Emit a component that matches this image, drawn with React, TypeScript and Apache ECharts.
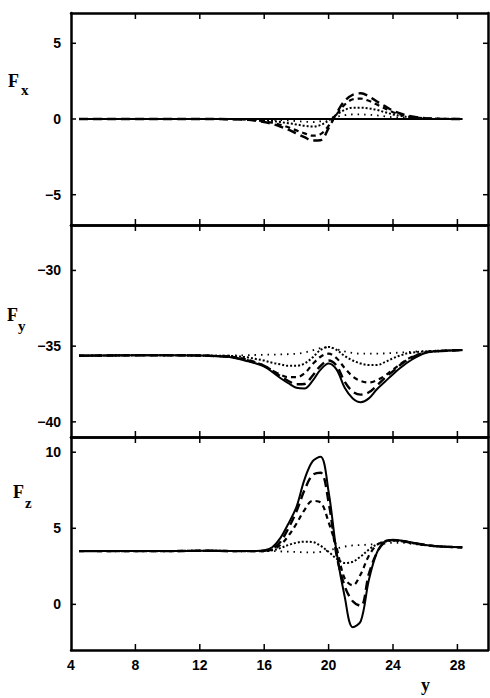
import React, { useEffect, useRef } from "react";
import * as echarts from "echarts";

// common abscissa (y coordinate)
const xs = [4.5, 6, 8, 10, 12, 13, 14, 15, 15.5, 16, 16.5, 17, 17.5, 18, 18.5, 19, 19.5, 20, 20.5, 21, 21.5, 22, 22.5, 23, 23.5, 24, 24.5, 25, 26, 27, 28.3];

// F_x
const fxSolid = [0, 0, 0, 0, 0, 0, 0,
  0, 0, 0, 0, 0, 0, 0, 0, 0, 0, 0, 0, 0, 0, 0, 0, 0, 0, 0, 0, 0,
  0, 0, 0];
const fxLong = [0, 0, 0, 0, 0, 0, -0.02,
  -0.06, -0.12, -0.2, -0.33, -0.5, -0.7, -0.95, -1.2, -1.42, -1.4, -0.6, 0.4, 1.2, 1.6, 1.7, 1.5, 1.15, 0.85, 0.55, 0.35, 0.2,
  0.06, 0.01, 0];
const fxMed = [0, 0, 0, 0, 0, 0, -0.01,
  -0.04, -0.09, -0.15, -0.25, -0.38, -0.55, -0.75, -0.95, -1.1, -1.0, -0.45, 0.3, 0.95, 1.3, 1.35, 1.2, 0.95, 0.7, 0.45, 0.28, 0.15,
  0.05, 0.01, 0];
const fxDense = [0, 0, 0, 0, 0, 0, 0,
  -0.02, -0.04, -0.08, -0.13, -0.2, -0.28, -0.36, -0.45, -0.5, -0.4, -0.1, 0.3, 0.6, 0.75, 0.75, 0.7, 0.6, 0.45, 0.3, 0.2, 0.12,
  0.03, 0, 0];
const fxSparse = [0, 0, 0, 0, 0, 0, 0,
  0, -0.01, -0.02, -0.04, -0.07, -0.1, -0.14, -0.18, -0.2, -0.15, 0, 0.15, 0.25, 0.3, 0.3, 0.28, 0.24, 0.18, 0.12, 0.08, 0.05,
  0.01, 0, 0];

// F_y
const fySolid = [-35.63, -35.62, -35.6, -35.6, -35.62, -35.66, -35.75,
  -36.0, -36.15, -36.35, -36.7, -37.1, -37.45, -37.75, -37.8, -37.3, -36.55, -36.15, -36.55, -37.75, -38.45, -38.7, -38.45, -37.85, -37.35, -36.85, -36.4, -36.0,
  -35.45, -35.32, -35.26];
const fyLong = [-35.63, -35.62, -35.6, -35.6, -35.62, -35.66, -35.73,
  -35.95, -36.1, -36.3, -36.62, -36.98, -37.3, -37.52, -37.5, -36.95, -36.3, -35.95, -36.3, -37.35, -38.0, -38.2, -38.05, -37.6, -37.1, -36.65, -36.2, -35.85,
  -35.42, -35.32, -35.26];
const fyMed = [-35.63, -35.62, -35.6, -35.6, -35.62, -35.65, -35.7,
  -35.9, -36.08, -36.3, -36.6, -36.88, -37.05, -37.05, -36.8, -36.2, -35.7, -35.5, -35.8, -36.45, -37.0, -37.3, -37.4, -37.25, -36.95, -36.55, -36.15, -35.8,
  -35.42, -35.32, -35.26];
const fyDense = [-35.63, -35.62, -35.6, -35.6, -35.62, -35.63, -35.65,
  -35.75, -35.85, -35.95, -36.1, -36.2, -36.3, -36.3, -36.15, -35.75, -35.25, -35.05, -35.25, -35.65, -35.95, -36.15, -36.25, -36.25, -36.05, -35.8, -35.6, -35.45,
  -35.35, -35.3, -35.26];
const fySparse = [-35.63, -35.62, -35.6, -35.6, -35.62, -35.62, -35.62,
  -35.6, -35.58, -35.57, -35.56, -35.55, -35.53, -35.5, -35.42, -35.28, -35.12, -35.08, -35.2, -35.35, -35.45, -35.5, -35.5, -35.5, -35.48, -35.45, -35.42, -35.38,
  -35.33, -35.29, -35.26];

// F_z
const fzSolid = [3.5, 3.5, 3.5, 3.5, 3.52, 3.52, 3.5,
  3.5, 3.5, 3.55, 3.75, 4.35, 5.3, 6.4, 8.2, 9.4, 9.7, 7.4, 3.4, 0.5, -1.5, -1.1, 1.6, 3.4, 4.15, 4.25, 4.2, 4.1,
  3.9, 3.8, 3.75];
const fzLong = [3.5, 3.5, 3.5, 3.5, 3.52, 3.52, 3.5,
  3.5, 3.5, 3.52, 3.65, 4.1, 5.0, 6.1, 7.5, 8.5, 8.65, 6.7, 3.2, 1.2, 0.2, -0.1, 2.0, 3.4, 4.1, 4.22, 4.18, 4.08,
  3.9, 3.8, 3.75];
const fzMed = [3.5, 3.5, 3.5, 3.5, 3.52, 3.52, 3.5,
  3.5, 3.5, 3.5, 3.6, 3.9, 4.5, 5.3, 6.2, 6.8, 6.7, 5.4, 3.7, 1.7, 1.25, 2.0, 3.2, 3.9, 4.15, 4.2, 4.18, 4.08,
  3.9, 3.8, 3.75];
const fzDense = [3.5, 3.5, 3.5, 3.5, 3.52, 3.52, 3.5,
  3.5, 3.5, 3.5, 3.55, 3.7, 3.9, 4.05, 4.12, 4.1, 3.85, 3.45, 3.0, 2.72, 2.8, 3.15, 3.6, 3.95, 4.12, 4.18, 4.15, 4.05,
  3.9, 3.8, 3.75];
const fzSparse = [3.5, 3.5, 3.5, 3.5, 3.52, 3.52, 3.5,
  3.5, 3.5, 3.5, 3.5, 3.48, 3.46, 3.44, 3.42, 3.42, 3.45, 3.55, 3.68, 3.8, 3.87, 3.9, 3.93, 3.96, 4.0, 4.05, 4.05, 4.0,
  3.88, 3.8, 3.75];

const xTickLabels = [4, 8, 12, 16, 20, 24, 28];
const xTicks = [8, 12, 16, 20, 24, 28];
const fxTicks = [-5, 0, 5];
const fyTicks = [-40, -35, -30];
const fzTicks = [0, 5, 10];

const panelNames = ["x", "y", "z"];

export default function App() {
  const ref = useRef<HTMLDivElement>(null);
  useEffect(() => {
    if (!ref.current) return;
    const chart = echarts.init(ref.current, undefined, { renderer: "svg" });

    const panels = [
      { top: 13, height: 212, min: -7, max: 7, ticks: fxTicks, sets: [fxSparse, fxDense, fxMed, fxLong, fxSolid] },
      { top: 225, height: 212, min: -41, max: -27, ticks: fyTicks, sets: [fySparse, fyDense, fyMed, fyLong, fySolid] },
      { top: 437, height: 213, min: -3, max: 11, ticks: fzTicks, sets: [fzSparse, fzDense, fzMed, fzLong, fzSolid] },
    ];
    const styles: any[] = [
      { width: 1.8, type: [1.5, 5] },
      { width: 2, type: [2, 2] },
      { width: 2.2, type: [5, 4] },
      { width: 2.4, type: [9, 5] },
      { width: 2, type: "solid" },
    ];

    const labelStyle = () => ({
      color: "#000",
      fontFamily: "Liberation Sans",
      fontWeight: "bold",
      fontSize: 14,
    });
    const fmt = (v: number) => String(v).replace("-", "\u2212");
    const frame = () => ({ show: true, onZero: false, lineStyle: { color: "#000", width: 2.5 } });

    const grid: any[] = [];
    const xAxis: any[] = [];
    const yAxis: any[] = [];
    const series: any[] = [];

    panels.forEach((p, i) => {
      grid.push({ left: 71, right: 2, top: p.top, height: p.height, show: false });
      ["bottom", "top"].forEach((pos) => {
        const withLabels = i === 2 && pos === "bottom";
        xAxis.push({
          type: "value", gridIndex: i, position: pos, min: 4, max: 29.9,
          axisLine: frame(),
          splitLine: { show: false },
          axisTick: { show: false },
          axisLabel: withLabels
            ? { show: true, customValues: xTickLabels.slice(), margin: 8, ...labelStyle() }
            : { show: false },
        });
      });
      ["left", "right"].forEach((pos) => {
        yAxis.push({
          type: "value", gridIndex: i, position: pos, min: p.min, max: p.max,
          axisLine: frame(),
          splitLine: { show: false },
          axisTick: { show: false },
          axisLabel: pos === "left"
            ? { show: true, customValues: p.ticks.slice(), margin: 10, formatter: fmt, ...labelStyle() }
            : { show: false },
        });
      });
      p.sets.forEach((arr, k) => {
        series.push({
          type: "line",
          xAxisIndex: 2 * i, yAxisIndex: 2 * i,
          data: xs.map((x, j) => [x, arr[j]]),
          showSymbol: false, smooth: 0.35,
          lineStyle: { color: "#000", width: styles[k].width, type: styles[k].type },
          z: 2 + k,
          silent: true,
        });
      });
      // inward tick marks on all four sides, positioned through the axes' scales
      series.push({
        type: "custom",
        xAxisIndex: 2 * i, yAxisIndex: 2 * i,
        silent: true, clip: false, z: 10,
        data: [...xTicks.map((v) => [v, p.min, 0]), ...p.ticks.map((v) => [4, v, 1])],
        renderItem: (params: any, api: any) => {
          const cs = params.coordSys;
          const kind = api.value(2);
          const pt = api.coord([api.value(0), api.value(1)]);
          const style = { stroke: "#000", lineWidth: 1.5 };
          if (kind === 0) {
            const x = pt[0];
            return {
              type: "group",
              children: [
                { type: "line", shape: { x1: x, y1: cs.y, x2: x, y2: cs.y + 6 }, style },
                { type: "line", shape: { x1: x, y1: cs.y + cs.height, x2: x, y2: cs.y + cs.height - 6 }, style },
              ],
            };
          }
          const y = pt[1];
          return {
            type: "group",
            children: [
              { type: "line", shape: { x1: cs.x, y1: y, x2: cs.x + 5, y2: y }, style },
              { type: "line", shape: { x1: cs.x + cs.width, y1: y, x2: cs.x + cs.width - 5, y2: y }, style },
            ],
          };
        },
      });
    });

    const serifBig = { fontFamily: "Liberation Serif", fontWeight: "bold", fontSize: 18, fill: "#000" };
    const serifSub = { fontFamily: "Liberation Serif", fontWeight: "bold", fontSize: 15, fill: "#000" };
    const titlePos = [
      { fx: 8, fy: 81, sx: 21, sy: 90 },
      { fx: 7, fy: 315, sx: 18, sy: 326 },
      { fx: 13, fy: 492, sx: 25, sy: 503 },
    ];
    const graphic: any[] = [];
    titlePos.forEach((t, i) => {
      graphic.push({ type: "text", left: t.fx, top: t.fy - 9, style: { text: "F", ...serifBig } });
      graphic.push({ type: "text", left: t.sx, top: t.sy - 8, style: { text: panelNames[i], ...serifSub } });
    });
    graphic.push({ type: "text", left: 421, top: 676, style: { text: "y", ...serifBig } });

    chart.setOption({
      animation: false,
      backgroundColor: "#fff",
      grid, xAxis, yAxis, series, graphic,
    });
    return () => chart.dispose();
  }, []);
  return <div ref={ref} style={{ position: "absolute", left: 0, top: 0, width: 490, height: 698 }} />;
}
